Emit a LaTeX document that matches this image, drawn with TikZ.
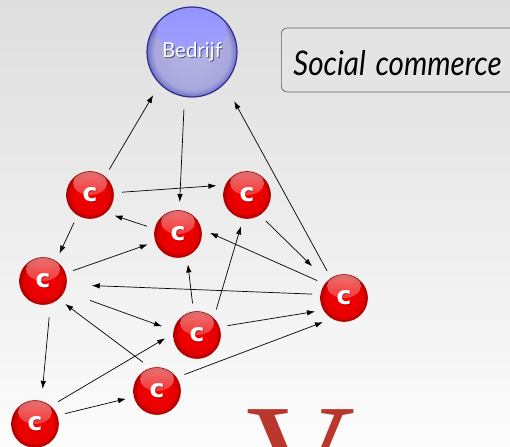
\documentclass[tikz,border=0pt]{standalone}
\usepackage{fontspec}
\newfontfamily\gill{Lato}
\newfontfamily\dejavu{DejaVu Sans}
\newfontfamily\logofont{Liberation Serif}
\usepackage{tikz}
\usetikzlibrary{arrows.meta}
\usetikzlibrary{fadings}

\definecolor{achterboven}{RGB}{222,222,222}
\definecolor{achteronder}{RGB}{252,252,252}
\definecolor{klantrood}{RGB}{246,0,0}
\definecolor{klantmidden}{RGB}{230,0,0}
\definecolor{klantdonker}{RGB}{175,0,0}
\definecolor{bedrijflicht}{RGB}{180,180,228}
\definecolor{bedrijfmidden}{RGB}{168,168,222}
\definecolor{bedrijfring}{RGB}{112,112,200}
\definecolor{bedrijfrand}{RGB}{45,45,145}
\definecolor{glansboven}{RGB}{148,148,255}
\definecolor{glansonder}{RGB}{172,172,255}
\definecolor{logorood}{RGB}{185,55,45}

\pgfdeclareradialshading{klantbal}{\pgfpoint{0bp}{0bp}}{color(0bp)=(klantrood); color(20bp)=(klantmidden); color(25bp)=(klantdonker); color(50bp)=(klantdonker)}
\pgfdeclareradialshading{bedrijfbal}{\pgfpoint{0bp}{0bp}}{color(0bp)=(bedrijflicht); color(21bp)=(bedrijfmidden); color(25bp)=(bedrijfring); color(50bp)=(bedrijfring)}

\newcommand{\cfont}{\dejavu\bfseries\fontsize{25}{25}\selectfont}
\newcommand{\bfont}{\gill\fontsize{20.5}{20.5}\selectfont}

\tikzset{
  klant/.style={circle,minimum size=47pt,inner sep=0pt,outer sep=8.5pt,
    draw=klantdonker,line width=0.6pt,shading=klantbal,text=white,font=\cfont,
    path picture={
      \fill[white,path fading=south,fill opacity=0.45] ([yshift=12pt]path picture bounding box.center) ellipse (17pt and 12pt);
      \node[text=black,opacity=0.35,font=\cfont] at ([xshift=0.8pt,yshift=-0.8pt]path picture bounding box.center) {c};
    }},
  bedrijf/.style={circle,minimum size=90pt,inner sep=0pt,outer sep=13pt,
    draw=bedrijfrand,line width=1.2pt,shading=bedrijfbal,text=white,font=\bfont,
    path picture={
      \shade[top color=glansboven,bottom color=glansonder] ([yshift=21pt]path picture bounding box.center) ellipse (35pt and 24pt);
      \node[text=black,opacity=0.5,font=\bfont] at ([xshift=1pt,yshift=-1pt]path picture bounding box.center) {Bedrijf};
    }},
  titel/.style={draw=gray!75!black,line width=0.7pt,rounded corners=6pt,fill={rgb,255:red,228;green,228;blue,228},
    minimum height=64pt,text width=216pt,inner xsep=12pt,align=left,text height=31pt,text depth=0pt,
    font=\gill\itshape\fontsize{34}{34}\selectfont},
  pijl/.style={-{Latex[length=8pt,width=5.5pt]},line width=0.7pt,black}
}

\begin{document}
\begin{tikzpicture}[x=1pt,y=-1pt]
  \useasboundingbox (0,0) rectangle (510,446);
  %background
  \shade[top color=achterboven,bottom color=achteronder] (0,0) rectangle (510,446);
  %logo
  \node[anchor=base west,inner sep=0pt,text=logorood,font=\logofont\fontsize{151}{151}\selectfont] (logo) at (246,508) {V};
  %title
  \node[titel,anchor=west] (sc) at (281,60) {\scalebox{0.87}[1]{Social commerce}};

  %nodes
  \node[bedrijf] (b) at (192,52) {Bedrijf};
  \node[klant] (c1) at (90,195) {c};
  \node[klant] (c2) at (247,195) {c};
  \node[klant] (c3) at (178,234) {c};
  \node[klant] (c4) at (43,281) {c};
  \node[klant] (c5) at (344,298) {c};
  \node[klant] (c6) at (197,335) {c};
  \node[klant] (c7) at (157,391) {c};
  \node[klant] (c8) at (35,424) {c};

  %arrows
  \draw[pijl] (c1.53) -- (b.228);
  \draw[pijl] (b.262) -- (c3.87);
  \draw[pijl,shorten >=7pt] (c5.122) -- (b.312);
  \draw[pijl] (c1.5) -- (c2.163);
  \draw[pijl] (c3.166) -- (c1.320);
  \draw[pijl] (c1.240) -- (c4.59);
  \draw[pijl] (c4.19) -- (c3.199);
  \draw[pijl,shorten >=13pt] (c2.306) -- (c5.135);
  \draw[pijl] (c5.147) -- (c3.2);
  \draw[pijl] (c6.53) -- (c2.259);
  \draw[pijl] (c6.98) -- (c3.288);
  \draw[pijl,shorten >=17pt] (c5.173) -- (c4.353);
  \draw[pijl,shorten <=19pt,shorten >=4pt] (c4.336) -- (c6.167);
  \draw[pijl] (c6.17) -- (c5.205);
  \draw[pijl] (c7.116) -- (c4.314);
  \draw[pijl,shorten <=5pt,shorten >=4pt] (c4.282) -- (c8.77);
  \draw[pijl] (c8.44) -- (c6.186);
  \draw[pijl] (c8.19) -- (c7.194);
  \draw[pijl] (c7.31) -- (c5.229);
\end{tikzpicture}
\end{document}
